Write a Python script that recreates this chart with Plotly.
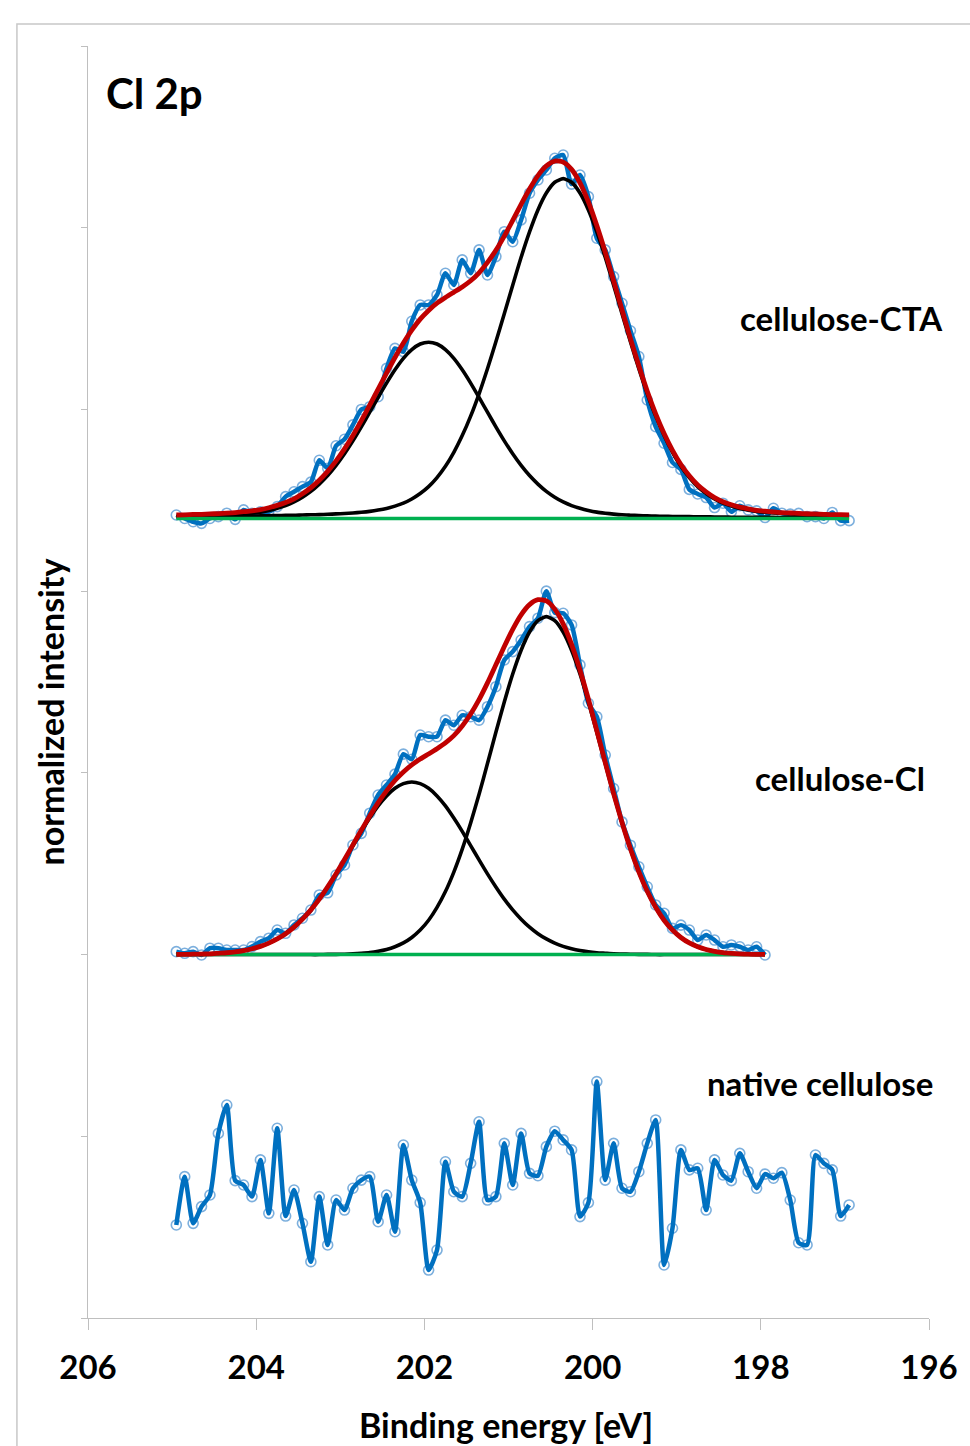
import plotly.graph_objects as go

# ---------------- data ----------------
ENERGY = [
    204.95, 204.85, 204.75, 204.65, 204.55, 204.45, 204.35, 204.25, 204.15, 204.05,
    203.95, 203.85, 203.75, 203.65, 203.55, 203.45, 203.35, 203.25, 203.15, 203.05,
    202.95, 202.85, 202.75, 202.65, 202.55, 202.45, 202.35, 202.25, 202.15, 202.05,
    201.95, 201.85, 201.75, 201.65, 201.55, 201.45, 201.35, 201.25, 201.15, 201.05,
    200.95, 200.85, 200.75, 200.65, 200.55, 200.45, 200.35, 200.25, 200.15, 200.05,
    199.95, 199.85, 199.75, 199.65, 199.55, 199.45, 199.35, 199.25, 199.15, 199.05,
    198.95, 198.85, 198.75, 198.65, 198.55, 198.45, 198.35, 198.25, 198.15, 198.05,
    197.95, 197.85, 197.75, 197.65, 197.55, 197.45, 197.35, 197.25, 197.15, 197.05,
    196.95,
]

# stacking offsets of the spectra (normalized intensity units)
CTA_OFFSET = 4.4
CL_OFFSET = 2.0

# cellulose-CTA: measured points (above its baseline)
cta_measured = [
    0.019, 0.000, -0.018, -0.027, 0.000, 0.010, 0.029, -0.005, 0.047, 0.029,
    0.037, 0.037, 0.065, 0.120, 0.147, 0.175, 0.200, 0.320, 0.276, 0.400,
    0.436, 0.515, 0.600, 0.615, 0.670, 0.826, 0.936, 0.918, 1.085, 1.175,
    1.175, 1.230, 1.349, 1.285, 1.423, 1.349, 1.478, 1.340, 1.441, 1.578,
    1.523, 1.643, 1.790, 1.863, 1.918, 1.982, 2.000, 1.840, 1.890, 1.771,
    1.542, 1.478, 1.331, 1.184, 1.033, 0.891, 0.652, 0.505, 0.414, 0.308,
    0.270, 0.160, 0.135, 0.115, 0.060, 0.084, 0.037, 0.070, 0.047, 0.042,
    0.005, 0.056, 0.029, 0.024, 0.028, 0.010, 0.010, 0.000, 0.033, -0.012,
    -0.012,
]
# cellulose-CTA: fitted Cl 2p1/2 component
cta_fit_2p12 = [
    0.010, 0.011, 0.012, 0.013, 0.014, 0.016, 0.018, 0.020, 0.024, 0.029,
    0.035, 0.044, 0.056, 0.071, 0.091, 0.117, 0.149, 0.189, 0.236, 0.292,
    0.356, 0.427, 0.504, 0.585, 0.666, 0.745, 0.818, 0.881, 0.929, 0.960,
    0.970, 0.960, 0.929, 0.881, 0.818, 0.745, 0.666, 0.585, 0.504, 0.427,
    0.356, 0.292, 0.236, 0.189, 0.149, 0.117, 0.091, 0.071, 0.056, 0.044,
    0.035, 0.029, 0.024, 0.020, 0.018, 0.016, 0.014, 0.013, 0.012, 0.011,
    0.010, 0.010, 0.009, 0.009, 0.008, 0.008, 0.007, 0.007, 0.007, 0.006,
    0.006, 0.006, 0.005, 0.005, 0.005, 0.005, 0.005, 0.004, 0.004, 0.004,
    0.004,
]
# cellulose-CTA: fitted Cl 2p3/2 component
cta_fit_2p32 = [
    0.009, 0.009, 0.010, 0.010, 0.011, 0.011, 0.011, 0.012, 0.013, 0.013,
    0.014, 0.015, 0.016, 0.017, 0.017, 0.019, 0.020, 0.021, 0.023, 0.025,
    0.027, 0.030, 0.034, 0.039, 0.046, 0.055, 0.068, 0.084, 0.107, 0.137,
    0.175, 0.225, 0.287, 0.364, 0.456, 0.563, 0.686, 0.824, 0.972, 1.127,
    1.284, 1.437, 1.577, 1.698, 1.791, 1.850, 1.870, 1.850, 1.791, 1.698,
    1.577, 1.437, 1.284, 1.127, 0.972, 0.824, 0.686, 0.563, 0.456, 0.364,
    0.287, 0.225, 0.175, 0.137, 0.107, 0.084, 0.068, 0.055, 0.046, 0.039,
    0.034, 0.030, 0.027, 0.025, 0.023, 0.021, 0.020, 0.019, 0.017, 0.017,
    0.016,
]

# cellulose-Cl: measured points (above its baseline), 204.95 ... 197.95 eV
cl_measured = [
    0.016, 0.007, 0.016, -0.002, 0.035, 0.035, 0.025, 0.025, 0.025, 0.044,
    0.071, 0.090, 0.135, 0.117, 0.163, 0.200, 0.245, 0.328, 0.340, 0.438,
    0.493, 0.603, 0.667, 0.778, 0.878, 0.933, 0.993, 1.103, 1.075, 1.208,
    1.199, 1.199, 1.290, 1.262, 1.317, 1.309, 1.290, 1.364, 1.474, 1.621,
    1.667, 1.731, 1.805, 1.851, 2.000, 1.882, 1.878, 1.814, 1.594, 1.383,
    1.309, 1.098, 0.914, 0.730, 0.602, 0.483, 0.373, 0.273, 0.227, 0.144,
    0.162, 0.135, 0.080, 0.108, 0.080, 0.043, 0.053, 0.043, 0.025, 0.043,
    -0.002,
]
cl_fit_2p12 = [
    0.001, 0.001, 0.002, 0.003, 0.004, 0.007, 0.010, 0.015, 0.022, 0.032,
    0.045, 0.063, 0.086, 0.115, 0.151, 0.195, 0.246, 0.305, 0.372, 0.444,
    0.521, 0.600, 0.678, 0.751, 0.818, 0.873, 0.915, 0.941, 0.950, 0.941,
    0.915, 0.873, 0.818, 0.751, 0.678, 0.600, 0.521, 0.444, 0.372, 0.305,
    0.246, 0.195, 0.151, 0.115, 0.086, 0.063, 0.045, 0.032, 0.022, 0.015,
    0.010, 0.007, 0.004, 0.003, 0.002, 0.001, 0.001, 0.000, 0.000, 0.000,
    0.000, 0.000, 0.000, 0.000, 0.000, 0.000, 0.000, 0.000, 0.000, 0.000,
    0.000,
]
cl_fit_2p32 = [
    0.000, 0.000, 0.000, 0.000, 0.000, 0.000, 0.000, 0.000, 0.000, 0.000,
    0.000, 0.000, 0.000, 0.000, 0.000, 0.000, 0.000, 0.000, 0.001, 0.001,
    0.002, 0.004, 0.007, 0.011, 0.018, 0.028, 0.043, 0.064, 0.094, 0.135,
    0.189, 0.260, 0.347, 0.454, 0.580, 0.724, 0.882, 1.051, 1.223, 1.390,
    1.544, 1.675, 1.775, 1.838, 1.860, 1.838, 1.775, 1.675, 1.544, 1.390,
    1.223, 1.051, 0.882, 0.724, 0.580, 0.454, 0.347, 0.260, 0.189, 0.135,
    0.094, 0.064, 0.043, 0.028, 0.018, 0.011, 0.007, 0.004, 0.002, 0.001,
    0.001,
]

# native cellulose: measured points (absolute normalized intensity)
native_measured = [
    0.512, 0.778, 0.521, 0.613, 0.677, 1.016, 1.172, 0.756, 0.732, 0.668,
    0.870, 0.576, 1.044, 0.561, 0.704, 0.521, 0.310, 0.668, 0.402, 0.649,
    0.594, 0.714, 0.759, 0.778, 0.530, 0.677, 0.475, 0.952, 0.759, 0.635,
    0.264, 0.374, 0.860, 0.695, 0.668, 0.851, 1.080, 0.649, 0.668, 0.961,
    0.732, 1.016, 0.796, 0.783, 0.943, 1.028, 0.980, 0.925, 0.558, 0.635,
    1.301, 0.759, 0.961, 0.714, 0.695, 0.805, 0.961, 1.090, 0.292, 0.494,
    0.925, 0.815, 0.824, 0.594, 0.870, 0.787, 0.756, 0.906, 0.805, 0.714,
    0.792, 0.769, 0.800, 0.649, 0.414, 0.402, 0.897, 0.851, 0.815, 0.561,
    0.622,
]

X_TICKS = [206, 204, 202, 200, 198, 196]
Y_TICKS = [0, 1, 2, 3, 4, 5, 6, 7]
LABELS = ["cellulose-CTA", "cellulose-Cl", "native cellulose"]

# ---------------- styles ----------------
BLUE = "#0070C0"
MARKER_BLUE = "rgba(91,155,213,0.8)"
RED = "#C00000"
GREEN = "#00B050"
AXIS_GREY = "#BFBFBF"
FONT = "Lato"

fig = go.Figure()


def add_points(x, y):
    fig.add_trace(go.Scatter(
        x=x, y=y, mode="markers",
        marker=dict(symbol="circle-open", size=10, color=MARKER_BLUE,
                    line=dict(width=1.6, color=MARKER_BLUE)),
        hoverinfo="skip"))
    fig.add_trace(go.Scatter(
        x=x, y=y, mode="lines",
        line=dict(color=BLUE, width=4.5, shape="spline", smoothing=0.6)))


def add_fitted(x, measured, comp_a, comp_b, offset):
    add_points(x, [offset + v for v in measured])
    for comp in (comp_a, comp_b):
        fig.add_trace(go.Scatter(
            x=x, y=[offset + v for v in comp], mode="lines",
            line=dict(color="black", width=3.6, shape="spline", smoothing=0.6)))
    fig.add_trace(go.Scatter(
        x=[x[0], x[-1]], y=[offset, offset], mode="lines",
        line=dict(color=GREEN, width=3.6)))
    fig.add_trace(go.Scatter(
        x=x, y=[offset + a + b for a, b in zip(comp_a, comp_b)], mode="lines",
        line=dict(color=RED, width=4.8, shape="spline", smoothing=0.6)))


add_fitted(ENERGY, cta_measured, cta_fit_2p12, cta_fit_2p32, CTA_OFFSET)
n_cl = len(cl_measured)
add_fitted(ENERGY[:n_cl], cl_measured, cl_fit_2p12, cl_fit_2p32, CL_OFFSET)
add_points(ENERGY, native_measured)

# plot area in pixels: x 88..940, y 46..1318
L, R, T, B = 88, 30, 46, 128
W, H = 970, 1446
PW, PH = W - L - R, H - T - B


def px(xp):
    return (xp - L) / PW


def py(yp):
    return (H - B - yp) / PH


bold = dict(family=FONT, color="black", weight=700)

annotations = [
    dict(text="Cl 2p", x=px(104), y=py(93), xanchor="left", yanchor="middle",
         font=dict(size=42, **bold)),
    dict(text=LABELS[0], x=px(851), y=py(318), xanchor="center", yanchor="middle",
         font=dict(size=33, **bold)),
    dict(text=LABELS[1], x=px(850), y=py(778), xanchor="center", yanchor="middle",
         font=dict(size=33, **bold)),
    dict(text=LABELS[2], x=px(830), y=py(1083), xanchor="center", yanchor="middle",
         font=dict(size=33, **bold)),
    dict(text="Binding energy [eV]", x=px(511), y=py(1425), xanchor="center",
         yanchor="middle", font=dict(size=34, **bold)),
    dict(text="normalized intensity", x=px(50), y=py(712), xanchor="center",
         yanchor="middle", textangle=-90, font=dict(size=34, **bold)),
]
for a in annotations:
    a.update(xref="paper", yref="paper", showarrow=False)

fig.update_layout(
    width=W, height=H, autosize=False,
    margin=dict(l=L, r=R, t=T, b=B),
    paper_bgcolor="white", plot_bgcolor="white",
    showlegend=False,
    annotations=annotations,
    shapes=[dict(type="rect", xref="paper", yref="paper",
                 x0=px(16), x1=px(990), y0=py(1470), y1=py(24),
                 line=dict(color="#C8C8C8", width=1.5), layer="below")],
    xaxis=dict(range=[206, 196], tickvals=X_TICKS, ticktext=[str(t) for t in X_TICKS],
               ticks="outside", ticklen=11, tickwidth=1.3, tickcolor=AXIS_GREY,
               showline=True, linecolor=AXIS_GREY, linewidth=1.3,
               showgrid=False, zeroline=False, ticklabelstandoff=9,
               tickfont=dict(size=33, **bold)),
    yaxis=dict(range=[0, 7], tickvals=Y_TICKS, ticks="outside", ticklen=6,
               tickwidth=1.3, tickcolor=AXIS_GREY, showticklabels=False,
               showline=True, linecolor=AXIS_GREY, linewidth=1.3,
               showgrid=False, zeroline=False),
)

fig.write_html("out.html")
